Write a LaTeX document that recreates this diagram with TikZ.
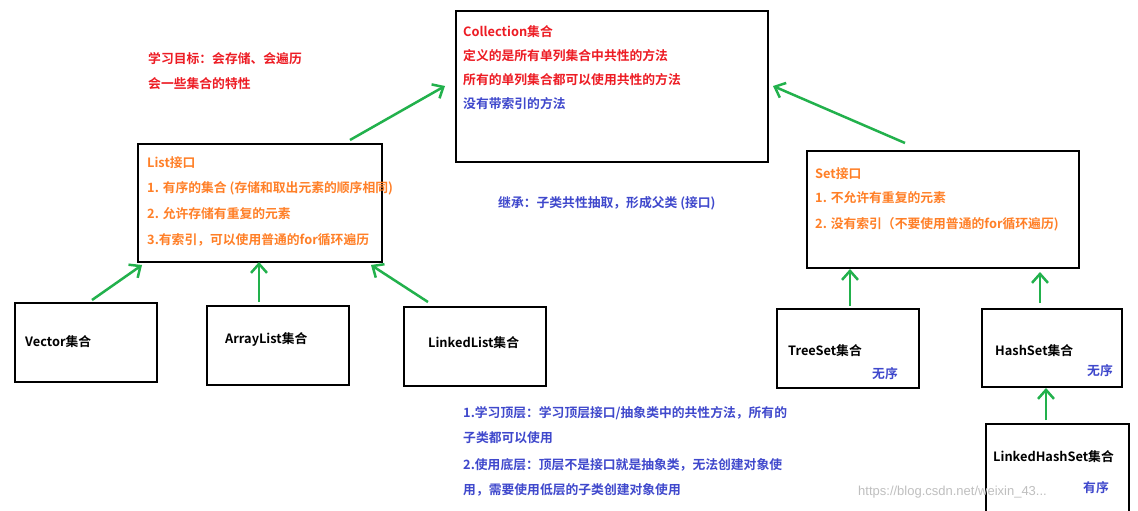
\documentclass[tikz,border=0pt]{standalone}
\usepackage{fontspec}
\newfontfamily\cjk{Noto Sans CJK SC}[BoldFont={Noto Sans CJK SC Bold}]
\usetikzlibrary{arrows.meta}
\definecolor{myred}{RGB}{237,28,36}
\definecolor{myor}{RGB}{255,127,39}
\definecolor{myblue}{RGB}{63,72,204}
\definecolor{mygreen}{RGB}{34,177,76}
\begin{document}
\begin{tikzpicture}[x=1pt,y=-1pt,
  box/.style={draw,line width=2pt},
  txt/.style={anchor=west,inner sep=0pt,font=\cjk\bfseries\fontsize{12.8}{14}\selectfont},
  arr/.style={draw=mygreen,line width=2.5pt,-{Straight Barb[length=9pt,width=16pt]}}]
\useasboundingbox (0,0) rectangle (1138,511);
\fill[white] (0,0) rectangle (1138,511);
\node[box,minimum width=312pt,minimum height=151pt,anchor=north west] (coll) at (455,10) {};
\node[box,minimum width=244pt,minimum height=118pt,anchor=north west] (list) at (137,143) {};
\node[box,minimum width=272pt,minimum height=117pt,anchor=north west] (set) at (806,150) {};
\node[box,minimum width=142pt,minimum height=79pt,anchor=north west] (vec) at (14,302) {};
\node[box,minimum width=142pt,minimum height=79pt,anchor=north west] (al) at (206,305) {};
\node[box,minimum width=142pt,minimum height=79pt,anchor=north west] (ll) at (403,306) {};
\node[box,minimum width=142pt,minimum height=79pt,anchor=north west] (ts) at (776,308) {};
\node[box,minimum width=140pt,minimum height=78pt,anchor=north west] (hs) at (981,308) {};
\node[box,minimum width=143pt,minimum height=90pt,anchor=north west] (lhs) at (985,423) {};
% texts
\node[txt,myred] (c1) at (463,32) {Collection集合};
\node[txt,myred] (c2) at (463,56) {定义的是所有单列集合中共性的方法};
\node[txt,myred] (c3) at (463,80) {所有的单列集合都可以使用共性的方法};
\node[txt,myblue] (c4) at (463,104) {没有带索引的方法};
\node[txt,myor] (l1) at (147,163) {List接口};
\node[txt,myor] (l2) at (147,188) {1. 有序的集合 (存储和取出元素的顺序相同)};
\node[txt,myor] (l3) at (147,214) {2. 允许存储有重复的元素};
\node[txt,myor] (l4) at (147,240) {3.有索引，可以使用普通的for循环遍历};
\node[txt,myor] (s1) at (815,174) {Set接口};
\node[txt,myor] (s2) at (815,198) {1. 不允许有重复的元素};
\node[txt,myor] (s3) at (815,224) {2. 没有索引（不要使用普通的for循环遍历)};
\node[txt] (vt) at (25,342) {Vector集合};
\node[txt] (at) at (225,339) {ArrayList集合};
\node[txt] (lt) at (428,343) {LinkedList集合};
\node[txt] (tt) at (788,351) {TreeSet集合};
\node[txt,myblue] (tw) at (872,374) {无序};
\node[txt] (ht) at (995,351) {HashSet集合};
\node[txt,myblue] (hw) at (1087,371) {无序};
\node[txt] (lht) at (993,457) {LinkedHashSet集合};
\node[txt,myblue] (lhw) at (1083,488) {有序};
\node[txt,myred] (g1) at (148,59) {学习目标：会存储、会遍历};
\node[txt,myred] (g2) at (148,84) {会一些集合的特性};
\node[txt,myblue] (inh) at (498,203) {继承：子类共性抽取，形成父类 (接口)};
\node[txt,myblue] (b1) at (463,413) {1.学习顶层：学习顶层接口/抽象类中的共性方法，所有的};
\node[txt,myblue] (b2) at (463,438) {子类都可以使用};
\node[txt,myblue] (b3) at (463,465) {2.使用底层：顶层不是接口就是抽象类，无法创建对象使};
\node[txt,myblue] (b4) at (463,490) {用，需要使用低层的子类创建对象使用};
\node[anchor=west,inner sep=0pt,text=gray!50,font=\fontspec{Liberation Sans}\fontsize{13}{14}\selectfont] (wm) at (858,492) {https://blog.csdn.net/weixin\_43...};
% arrows
\coordinate (a1s) at (350,140); \coordinate (a1e) at (445,86);
\coordinate (a2s) at (905,143); \coordinate (a2e) at (773,86);
\coordinate (a3s) at (92,300); \coordinate (a3e) at (142,265);
\coordinate (a4s) at (259,302); \coordinate (a4e) at (259,262);
\coordinate (a5s) at (428,302); \coordinate (a5e) at (371,265);
\coordinate (a6s) at (850,306); \coordinate (a6e) at (850,269);
\coordinate (a7s) at (1040,303); \coordinate (a7e) at (1040,272);
\coordinate (a8s) at (1046,420); \coordinate (a8e) at (1046,388);
\foreach \i in {1,...,8} \draw[arr] (a\i s) -- (a\i e);
\end{tikzpicture}
\end{document}
